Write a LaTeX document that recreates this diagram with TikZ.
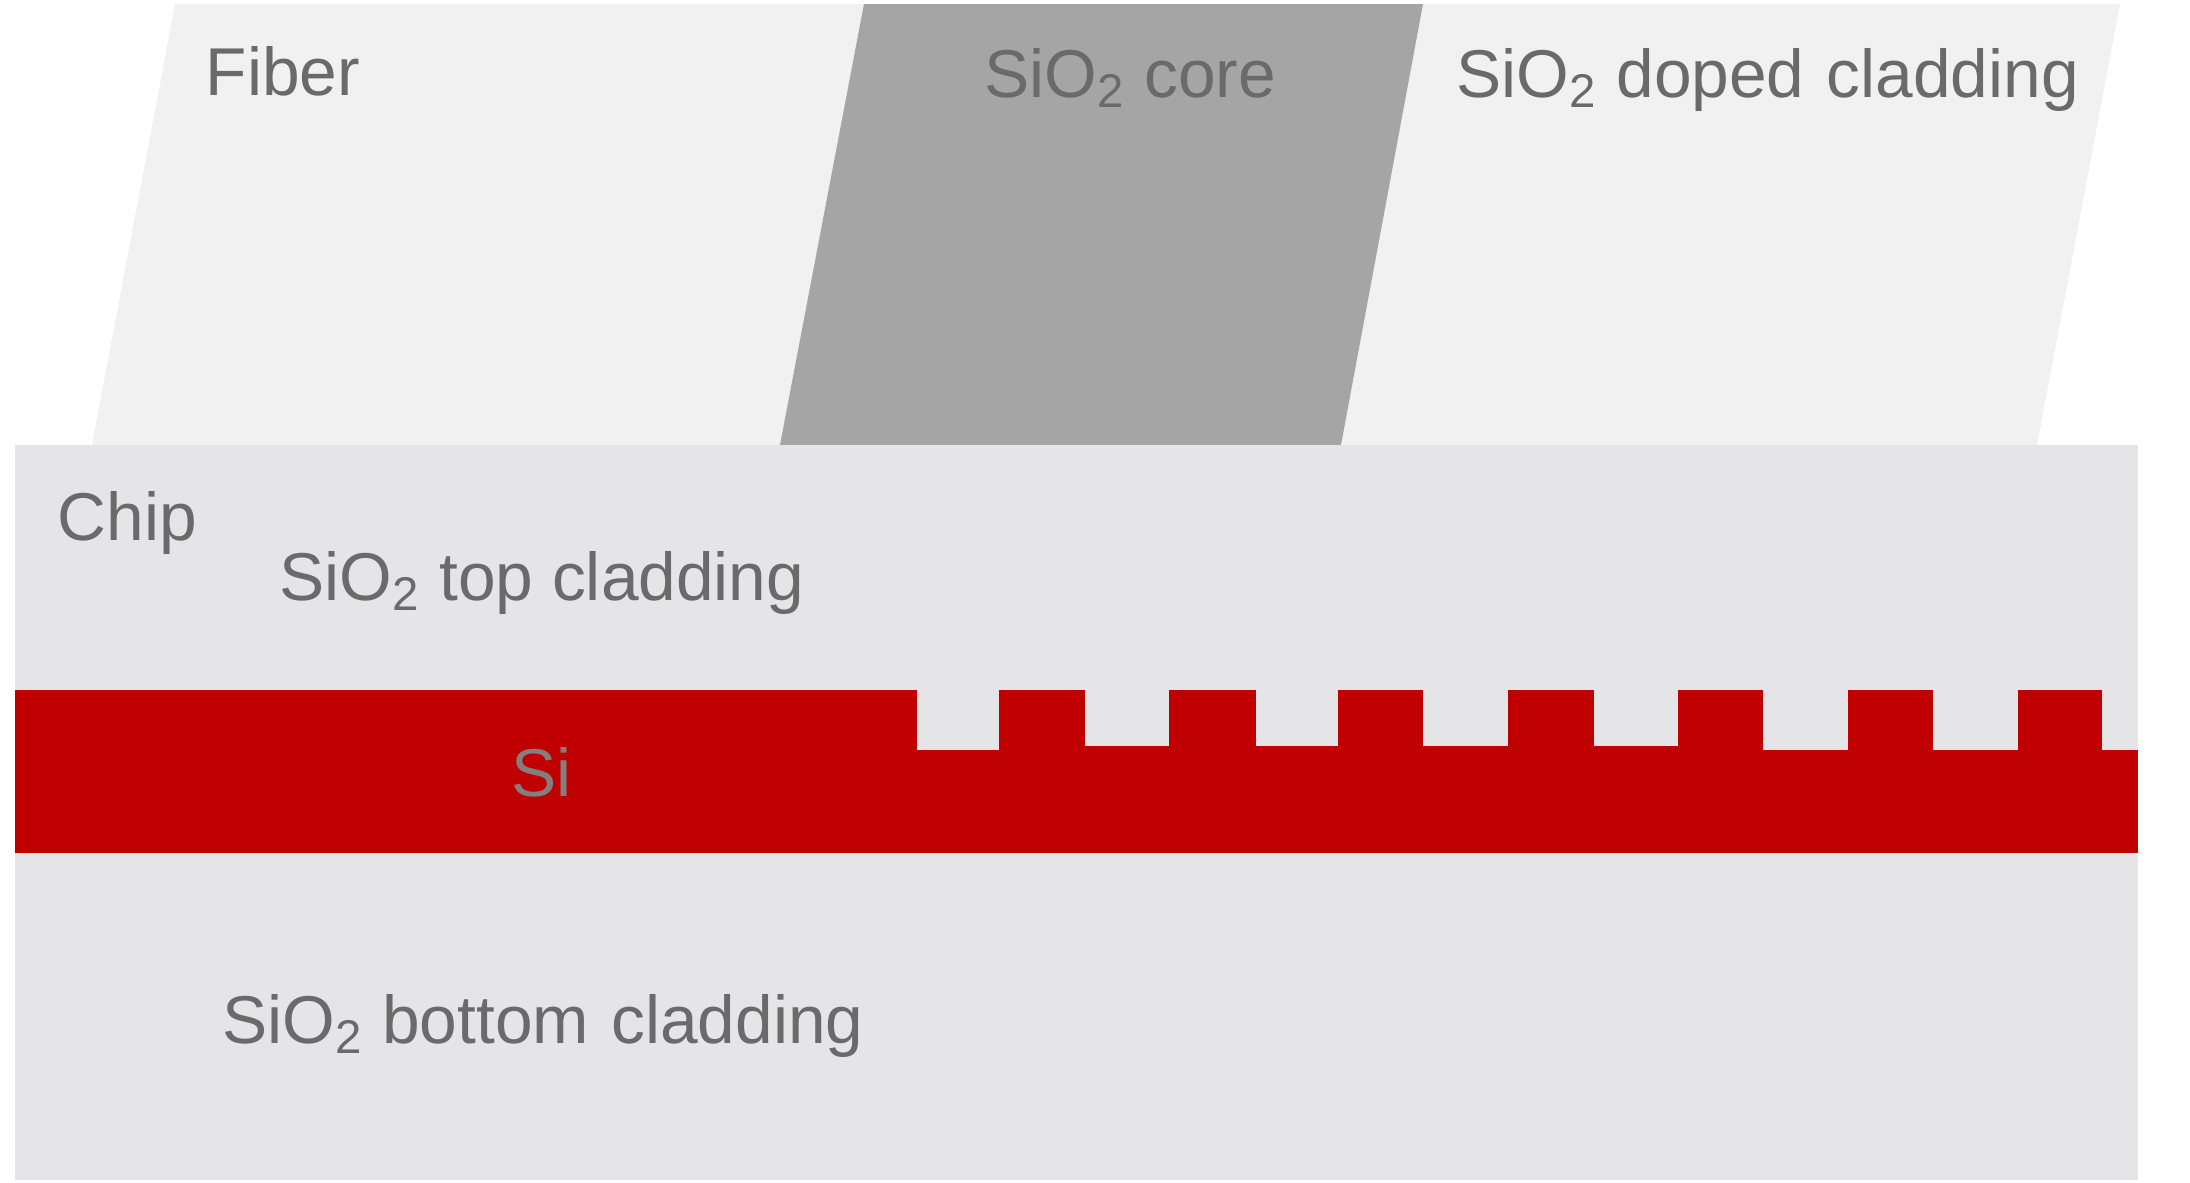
\documentclass[tikz,border=0pt]{standalone}
\usepackage{fontspec}
\setmainfont{Liberation Sans}
\usetikzlibrary{positioning}
\definecolor{fiberfill}{HTML}{F1F1F2}
\definecolor{corefill}{HTML}{A5A5A5}
\definecolor{chipfill}{HTML}{E5E4E6}
\definecolor{sifill}{HTML}{C00000}
\definecolor{textgray}{HTML}{6A6A6A}
\tikzset{
  lbl/.style={anchor=base west, inner sep=0pt, text=textgray, font=\fontsize{19.25}{23}\selectfont},
}
\newcommand{\sio}{SiO\textsubscript{2}}

\begin{document}
\begin{tikzpicture}[y=-1cm]
      \useasboundingbox (0, 0) rectangle (21.9, 11.82);
      % fiber
      \fill[fiberfill] (0.92, 4.45) -- (1.75, 0.04) -- (21.2, 0.04) -- (20.37, 4.45) -- cycle;
      \fill[corefill] (7.80, 4.45) -- (8.64, 0.04) -- (14.23, 0.04) -- (13.41, 4.45) -- cycle;
      % chip
      \fill[chipfill] (0.15, 4.45) rectangle (21.38, 11.8);
      \fill[sifill] (0.15, 6.9) rectangle (21.38, 8.525);
      \foreach \xa/\xb/\yb in {9.17/9.99/7.5, 10.85/11.69/7.46, 12.56/13.38/7.46, 14.23/15.08/7.46,
                               15.94/16.78/7.46, 17.63/18.48/7.5, 19.33/20.18/7.5, 21.02/21.38/7.5} {
        \fill[chipfill] (\xa, 6.9) rectangle (\xb, \yb);
      }
      \node[lbl] (fiber) at (2.05, 0.95) {Fiber};
      \node[lbl] (core) at (9.84, 0.97) {\sio{} core};
      \node[lbl] (doped) at (14.56, 0.97) {\sio{} doped\hspace{1pt} cladding};
      \node[lbl] (chip) at (0.57, 5.40) {Chip};
      \node[lbl] (top) at (2.79, 6.00) {\sio{} top cladding};
      \node[lbl, text=gray] (si) at (5.11, 7.96) {Si};
      \node[lbl] (bottom) at (2.22, 10.43) {\sio{} bottom\hspace{1pt} cladding};
    \end{tikzpicture}
\end{document}
